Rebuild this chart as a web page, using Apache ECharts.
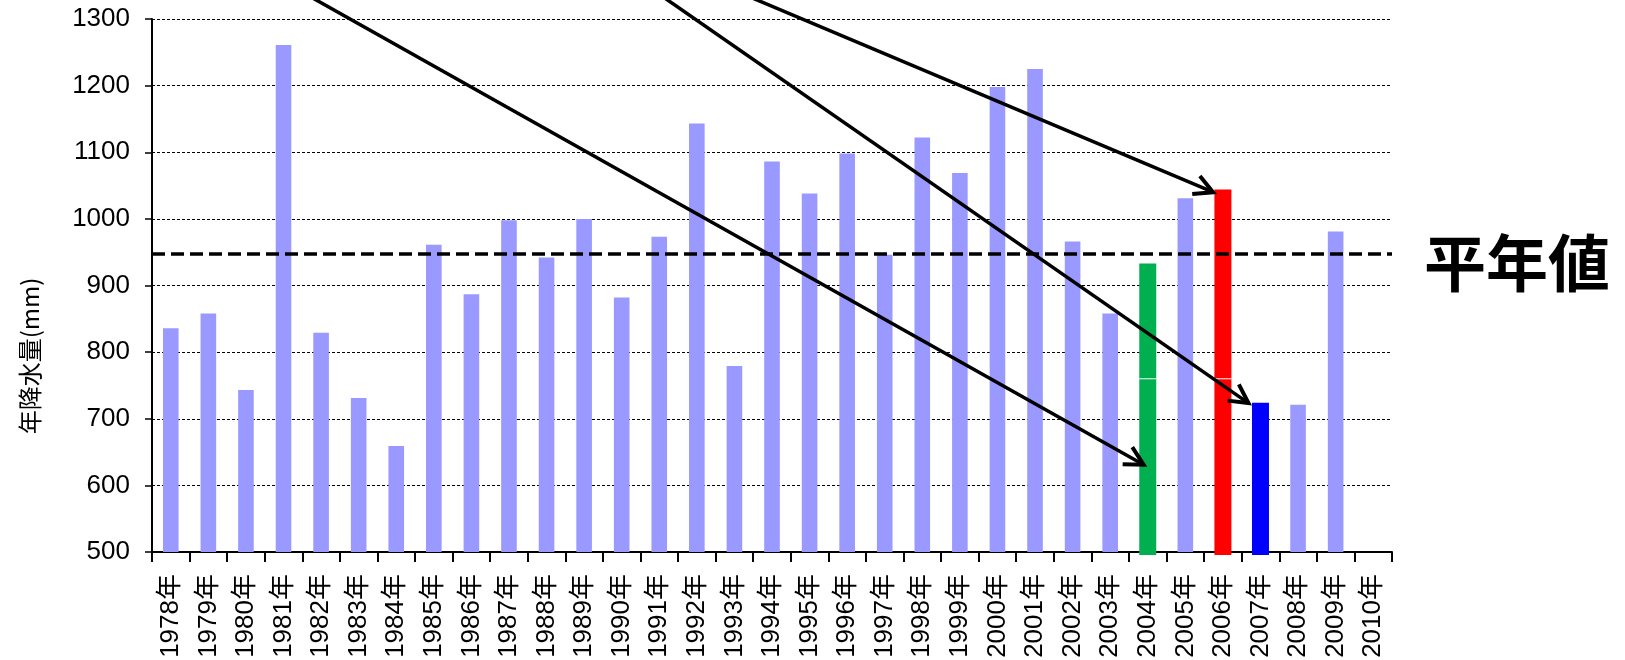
<!DOCTYPE html>
<html lang="ja">
<head>
<meta charset="utf-8">
<title>年降水量</title>
<script src="https://cdn.jsdelivr.net/npm/echarts@6/dist/echarts.min.js"></script>
<style>
  html, body { margin: 0; padding: 0; background: #fff; }
  #chart { width: 1625px; height: 660px; }
</style>
</head>
<body>
<div id="chart"></div>
<script>
// Years on the category axis
const years = [
  '1978年','1979年','1980年','1981年','1982年','1983年','1984年','1985年','1986年','1987年',
  '1988年','1989年','1990年','1991年','1992年','1993年','1994年','1995年','1996年','1997年',
  '1998年','1999年','2000年','2001年','2002年','2003年','2004年','2005年','2006年','2007年',
  '2008年','2009年','2010年'
];

// Annual precipitation (mm); 2010 has no value yet
const rainfall = [
  836, 858, 743, 1261, 829, 731, 659, 961, 887, 998,
  942, 1000, 882, 973, 1143, 779, 1086, 1038, 1098, 946,
  1122, 1069, 1198, 1225, 966, 858, 933, 1031, 1044, 724,
  721, 981, null
];

// Years drawn in their own colour
const highlightYears = ['2004年', '2006年', '2007年'];
const highlightColors = ['#00B050', '#FF0000', '#0000FF'];

// Normal (平年値) and the level where highlighted bars carry a thin white mark
const normalValue = 947.6;
const markValue = 760;

// Y axis range
const yMin = 500, yMax = 1300, yStep = 100;

// Arrow annotations: [category position, value] start and end
const arrowFrom = [[3.35, 1345], [12.80, 1345], [14.91, 1345]];
const arrowTo   = [[25.89, 631], [28.68, 723.5], [27.74, 1040]];

const FONT = "'Liberation Sans', Arial, 'Noto Sans CJK JP', sans-serif";
const CJK = "'Noto Sans CJK JP', 'Liberation Sans', sans-serif";

const baseValues = rainfall.map((v, i) => highlightYears.includes(years[i]) ? null : v);
const highlightData = highlightYears.map((y, k) => {
  const i = years.indexOf(y);
  return [i, rainfall[i], k];
});

const chart = echarts.init(document.getElementById('chart'), null, { renderer: 'canvas' });

chart.setOption({
  animation: false,
  backgroundColor: '#fff',
  textStyle: { fontFamily: FONT },
  grid: { left: 152, right: 233, top: 19, bottom: 108, containLabel: false, outerBoundsMode: 'none' },
  xAxis: {
    type: 'category',
    data: years,
    boundaryGap: true,
    axisLine: { lineStyle: { color: '#000', width: 2 } },
    axisTick: { show: true, length: 10, lineStyle: { color: '#000', width: 2 } },
    axisLabel: {
      interval: 0, rotate: 90, margin: 22,
      fontSize: 26, color: '#000', fontFamily: FONT
    },
    splitLine: { show: false }
  },
  yAxis: {
    type: 'value',
    min: yMin, max: yMax, interval: yStep,
    axisLine: { show: true, lineStyle: { color: '#000', width: 2 } },
    axisTick: { show: true, length: 7, lineStyle: { color: '#000', width: 1.5 } },
    axisLabel: {
      margin: 22, fontSize: 26, color: '#000', fontFamily: FONT,
      formatter: function (v) { return String(v); }
    },
    splitLine: { show: true, lineStyle: { color: '#000', width: 1, type: [3, 2] } }
  },
  series: [
    {
      type: 'bar',
      data: baseValues,
      barWidth: 15.6,
      itemStyle: { color: '#9999FF' },
      z: 2
    },
    {
      type: 'custom',
      data: highlightData,
      clip: false,
      z: 3,
      renderItem: function (params, api) {
        const idx = api.value(0);
        const val = api.value(1);
        const color = highlightColors[api.value(2)];
        const top = api.coord([idx, val]);
        const base = api.coord([idx, yMin]);
        const w = 17;
        const children = [{
          type: 'rect',
          shape: { x: top[0] - w / 2, y: top[1], width: w, height: base[1] - top[1] + 3 },
          style: { fill: color }
        }];
        if (val > markValue) {
          const m = api.coord([idx, markValue]);
          children.push({
            type: 'line',
            shape: { x1: top[0] - w / 2, y1: m[1], x2: top[0] + w / 2, y2: m[1] },
            style: { stroke: '#fff', lineWidth: 1 }
          });
        }
        return { type: 'group', children: children };
      },
      markLine: {
        silent: true,
        symbol: 'none',
        z: 5,
        label: { show: false },
        lineStyle: { color: '#000', width: 3.5, type: [13, 6] },
        data: [{ yAxis: normalValue }]
      }
    }
  ]
});

// Annotations: axis title, 平年値 label and arrows
function px(pos, value) {
  const c0 = chart.convertToPixel({ xAxisIndex: 0 }, years[0]);
  const c1 = chart.convertToPixel({ xAxisIndex: 0 }, years[1]);
  const y = chart.convertToPixel({ yAxisIndex: 0 }, value);
  return [c0 + pos * (c1 - c0), y];
}

const graphics = [];

graphics.push({
  type: 'text',
  x: 30,
  y: 356,
  rotation: Math.PI / 2,
  style: {
    text: '年降水量(mm)',
    font: '24px ' + CJK,
    fill: '#000',
    align: 'center',
    verticalAlign: 'middle'
  },
  z: 10
});

const normalY = chart.convertToPixel({ yAxisIndex: 0 }, normalValue);
const gridRight = chart.convertToPixel({ xAxisIndex: 0 }, years[years.length - 1]) +
  (chart.convertToPixel({ xAxisIndex: 0 }, years[1]) - chart.convertToPixel({ xAxisIndex: 0 }, years[0])) / 2;
graphics.push({
  type: 'text',
  x: gridRight + 32,
  y: normalY + 10,
  style: {
    text: '平年値',
    font: 'bold 62px ' + CJK,
    fill: '#000',
    align: 'left',
    verticalAlign: 'middle'
  },
  z: 10
});

const headLen = 21, headAngle = 28 * Math.PI / 180;
arrowFrom.forEach((from, k) => {
  const p0 = px(from[0], from[1]);
  const p1 = px(arrowTo[k][0], arrowTo[k][1]);
  const ang = Math.atan2(p1[1] - p0[1], p1[0] - p0[0]);
  const a1 = [p1[0] - headLen * Math.cos(ang - headAngle), p1[1] - headLen * Math.sin(ang - headAngle)];
  const a2 = [p1[0] - headLen * Math.cos(ang + headAngle), p1[1] - headLen * Math.sin(ang + headAngle)];
  graphics.push({
    type: 'line',
    shape: { x1: p0[0], y1: p0[1], x2: p1[0], y2: p1[1] },
    style: { stroke: '#000', lineWidth: 3.5 },
    z: 20
  });
  graphics.push({
    type: 'polyline',
    shape: { points: [a1, p1, a2] },
    style: { stroke: '#000', lineWidth: 4, fill: null, lineJoin: 'miter' },
    z: 20
  });
});

chart.setOption({ graphic: { elements: graphics } });
</script>
</body>
</html>
